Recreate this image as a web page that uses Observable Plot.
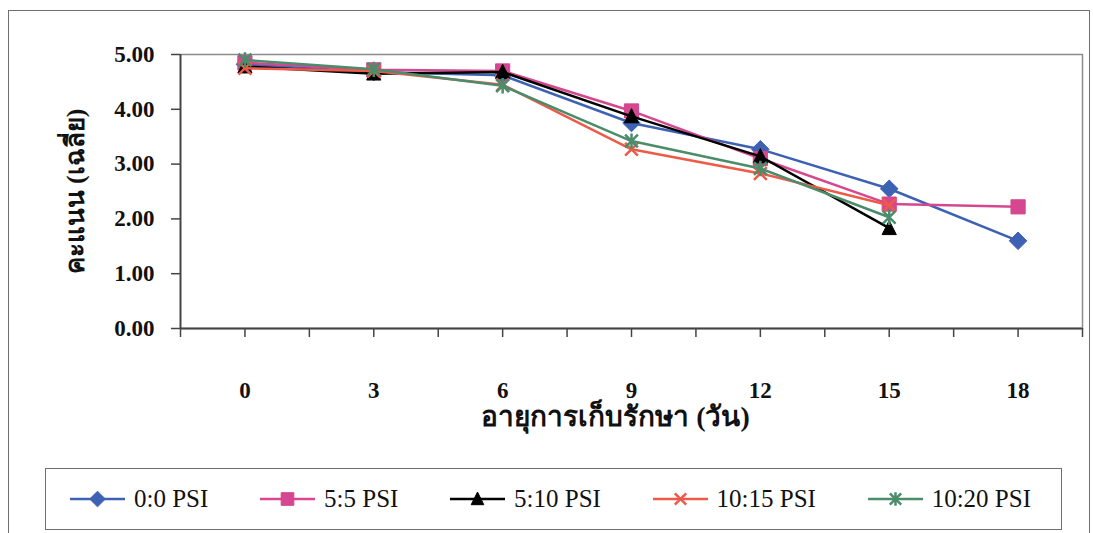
<!DOCTYPE html>
<html>
<head>
<meta charset="utf-8">
<script src="https://cdn.jsdelivr.net/npm/d3@7"></script>
<script src="https://cdn.jsdelivr.net/npm/@observablehq/plot@0.6"></script>
<style>
  html, body { margin: 0; padding: 0; background: #fff; }
  #page { position: relative; width: 1093px; height: 533px; overflow: hidden; background: #fff; }
  #outer { position: absolute; left: 8px; top: 10px; width: 1082px; height: 540px; border: 1.5px solid #6f6f6f; box-sizing: border-box; }
  #chart { position: absolute; left: 0; top: 0; }
  #legend {
    position: absolute; left: 45px; top: 468px; width: 1017px; height: 62px;
    border: 1.5px solid #6f6f6f; box-sizing: border-box;
    display: flex; align-items: center; justify-content: space-between;
    padding: 0 30px 0 24px;
    font-family: "Liberation Serif", "Times New Roman", Tinos, "DejaVu Serif", serif;
    font-size: 25px; color: #111;
  }
  .item { display: flex; align-items: center; }
  .item svg { margin-right: 9px; }
</style>
</head>
<body>
<div id="page">
  <div id="outer"></div>
  <div id="chart"></div>
  <div id="legend"></div>
</div>
<script>
// Storage time (days) and mean score for each pressure treatment
const days = [0, 3, 6, 9, 12, 15, 18];
const seriesNames = ["0:0 PSI", "5:5 PSI", "5:10 PSI", "10:15 PSI", "10:20 PSI"];
const psi0_0   = [4.82, 4.68, 4.62, 3.75, 3.27, 2.55, 1.60];
const psi5_5   = [4.85, 4.72, 4.70, 3.97, 3.10, 2.27, 2.22];
const psi5_10  = [4.78, 4.65, 4.68, 3.87, 3.14, 1.83, null];
const psi10_15 = [4.75, 4.70, 4.45, 3.27, 2.83, 2.25, null];
const psi10_20 = [4.90, 4.73, 4.43, 3.42, 2.92, 2.03, null];
const yTicks = [0, 1, 2, 3, 4, 5];
const xTitle = "อายุการเก็บรักษา (วัน)";
const yTitle = "คะแนน (เฉลี่ย)";

const colors = ["#3d62b3", "#d5478f", "#000000", "#ee5a48", "#4b8c6b"];
const serif = "'Liberation Serif', 'Times New Roman', Tinos, 'DejaVu Serif', serif";

// Marker shapes drawn with the canvas-path API that Plot symbols use
const diamond = { draw(ctx, size) { const r = Math.sqrt(size) * 0.62; ctx.moveTo(0, -r); ctx.lineTo(r, 0); ctx.lineTo(0, r); ctx.lineTo(-r, 0); ctx.closePath(); } };
const square = { draw(ctx, size) { const h = Math.sqrt(size) / 2; ctx.rect(-h, -h, 2 * h, 2 * h); } };
const triangle = { draw(ctx, size) { const h = Math.sqrt(size) * 0.5; ctx.moveTo(0, -h * 1.1); ctx.lineTo(h, h * 0.9); ctx.lineTo(-h, h * 0.9); ctx.closePath(); } };
const cross = { draw(ctx, size) { const h = Math.sqrt(size) * 0.45; ctx.moveTo(-h, -h); ctx.lineTo(h, h); ctx.moveTo(h, -h); ctx.lineTo(-h, h); } };
const star = { draw(ctx, size) { const h = Math.sqrt(size) * 0.45; ctx.moveTo(-h, -h); ctx.lineTo(h, h); ctx.moveTo(h, -h); ctx.lineTo(-h, h); ctx.moveTo(0, -h * 1.2); ctx.lineTo(0, h * 1.2); } };
const symbols = [diamond, square, triangle, cross, star];
const filled = [true, true, true, false, false];

const values = [psi0_0, psi5_5, psi5_10, psi10_15, psi10_20];
const rows = [];
values.forEach((vals, s) => vals.forEach((v, i) => { if (v != null) rows.push({ series: seriesNames[s], s, day: days[i], score: v }); }));

const seriesMarks = seriesNames.flatMap((name, s) => {
  const data = rows.filter(d => d.s === s);
  return [
    Plot.line(data, { x: "day", y: "score", stroke: colors[s], strokeWidth: 2.5 }),
    Plot.dot(data, {
      x: "day", y: "score", r: 8, symbol: () => symbols[s],
      fill: filled[s] ? colors[s] : "none", stroke: colors[s],
      strokeWidth: filled[s] ? 1 : 2.5
    })
  ];
});

const xTickMarks = d3.range(-1.5, 19.51, 1.5);

const chart = Plot.plot({
  width: 1093, height: 455,
  marginLeft: 180, marginRight: 11, marginTop: 54, marginBottom: 127,
  x: { domain: [-1.5, 19.5] },
  y: { domain: [0, 5] },
  style: { fontFamily: serif, background: "transparent", color: "#111" },
  marks: [
    Plot.frame({ stroke: "#8c8c8c", strokeWidth: 1.5 }),
    Plot.axisY({ ticks: yTicks, tickFormat: d => d.toFixed(2), tickSize: 9, tickPadding: 17, fontSize: 23, fontWeight: "bold", stroke: "#444", strokeWidth: 1.5, label: null }),
    Plot.axisX({ ticks: xTickMarks, tickFormat: () => "", tickSize: 9, stroke: "#444", strokeWidth: 1.5, label: null }),
    Plot.axisX({ ticks: days, tickFormat: d => String(d), tickSize: 0, tickPadding: 53, fontSize: 23, fontWeight: "bold", label: null }),
    Plot.ruleX([-1.5], { stroke: "#444", strokeWidth: 1.8 }),
    Plot.ruleY([0], { stroke: "#444", strokeWidth: 1.8 }),
    Plot.text([xTitle], { frameAnchor: "bottom", textAnchor: "middle", dx: -16, dy: 97, fontSize: 28, fontWeight: "bold", fill: "#111" }),
    Plot.text([yTitle], { frameAnchor: "left", textAnchor: "middle", dx: -105, rotate: -90, fontSize: 26, fontWeight: "bold", fill: "#111" }),
    ...seriesMarks
  ]
});
document.getElementById("chart").appendChild(chart);

// Legend row below the chart
const legend = document.getElementById("legend");
seriesNames.forEach((name, s) => {
  const item = document.createElement("div");
  item.className = "item";
  const ns = "http://www.w3.org/2000/svg";
  const svg = document.createElementNS(ns, "svg");
  svg.setAttribute("width", 55); svg.setAttribute("height", 20);
  const line = document.createElementNS(ns, "line");
  line.setAttribute("x1", 0); line.setAttribute("x2", 55); line.setAttribute("y1", 10); line.setAttribute("y2", 10);
  line.setAttribute("stroke", colors[s]); line.setAttribute("stroke-width", 2.5);
  svg.appendChild(line);
  const path = d3.path();
  symbols[s].draw(path, 160);
  const p = document.createElementNS(ns, "path");
  p.setAttribute("d", path.toString());
  p.setAttribute("transform", "translate(27.5,10)");
  p.setAttribute("fill", filled[s] ? colors[s] : "none");
  p.setAttribute("stroke", colors[s]);
  p.setAttribute("stroke-width", filled[s] ? 1 : 2.5);
  svg.appendChild(p);
  item.appendChild(svg);
  const label = document.createElement("span");
  label.textContent = name;
  item.appendChild(label);
  legend.appendChild(item);
});
</script>
</body>
</html>
